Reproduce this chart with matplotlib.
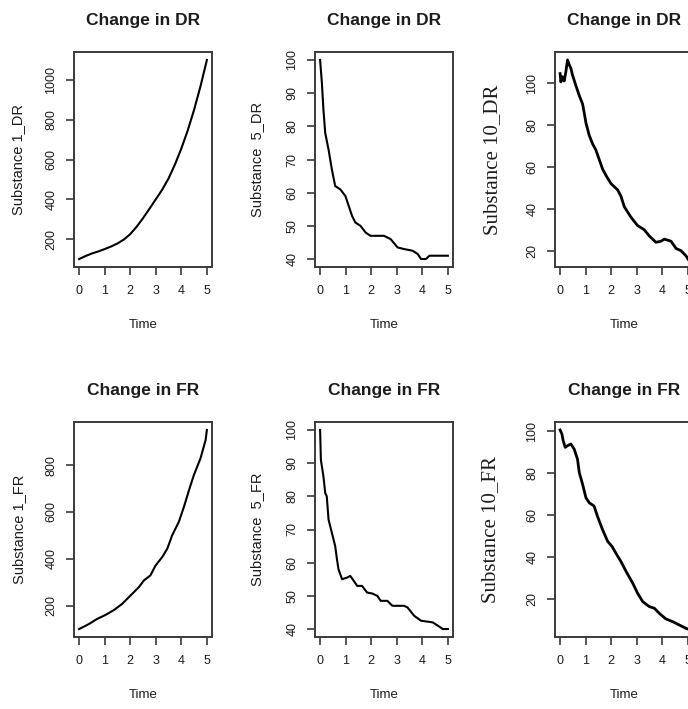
import matplotlib
matplotlib.use("Agg")
import matplotlib.pyplot as plt

# ---------------- data ----------------
time_s1_dr = [0, 0.25, 0.5, 0.75, 1, 1.25, 1.5, 1.75, 2, 2.25, 2.5, 2.75,
              3, 3.25, 3.5, 3.75, 4, 4.25, 4.5, 4.75, 5]
s1_dr = [100, 115, 128, 138, 150, 163, 178, 198, 225, 262, 305, 352,
         400, 448, 505, 575, 655, 746, 850, 968, 1100]

time_s5_dr = [0, 0.07, 0.13, 0.2, 0.33, 0.46, 0.59, 0.79, 0.99, 1.12, 1.25,
              1.38, 1.58, 1.78, 1.97, 2.5, 2.76, 3.03, 3.29, 3.62, 3.82,
              3.95, 4.14, 4.28, 5.0]
s5_dr = [100, 93, 85, 78, 73, 67, 62, 61, 59, 56, 53, 51, 50, 48, 47, 47,
         46, 43.5, 43, 42.5, 41.5, 40, 40, 41, 41]

time_s10_dr = [0, 0.03, 0.09, 0.16, 0.22, 0.29, 0.35, 0.42, 0.48, 0.61, 0.75,
               0.88, 0.94, 1.01, 1.14, 1.27, 1.40, 1.53, 1.66, 1.79, 1.99,
               2.25, 2.38, 2.51, 2.77, 3.03, 3.29, 3.49, 3.75, 3.95, 4.08,
               4.34, 4.54, 4.73, 4.93, 5.0]
s10_dr = [104.5, 100.5, 103, 101, 105, 111, 109, 107, 104, 99, 94, 90, 86,
          81, 75, 71, 68, 63.5, 59, 56, 52, 49, 46, 41, 36, 32, 30, 27, 24,
          24.5, 25.5, 24.5, 21, 20, 17.5, 16]

time_s1_fr = [0, 0.38, 0.70, 1.03, 1.36, 1.68, 2.01, 2.34, 2.53, 2.79, 2.99,
              3.25, 3.45, 3.64, 3.90, 4.10, 4.30, 4.49, 4.75, 4.95, 5.0]
s1_fr = [100, 121, 143, 160, 181, 207, 243, 279, 307, 329, 371, 407, 443,
         500, 557, 621, 693, 757, 829, 907, 950]

time_s5_fr = [0, 0.03, 0.13, 0.2, 0.26, 0.33, 0.46, 0.59, 0.66, 0.72, 0.86,
              1.05, 1.18, 1.32, 1.45, 1.64, 1.84, 2.04, 2.24, 2.37, 2.63,
              2.83, 3.29, 3.42, 3.68, 3.95, 4.41, 4.61, 4.8, 5.0]
s5_fr = [100, 91, 86, 81, 80, 73, 69, 65, 61, 58, 55, 55.5, 56, 54.5, 53,
         53, 51, 50.7, 50, 48.5, 48.5, 47, 47, 46.5, 44, 42.5, 42, 41, 40, 40]

time_s10_fr = [0, 0.07, 0.12, 0.2, 0.29, 0.42, 0.55, 0.68, 0.75, 0.88, 1.01,
               1.14, 1.33, 1.46, 1.66, 1.86, 2.03, 2.18, 2.38, 2.58, 2.84,
               3.03, 3.23, 3.49, 3.69, 3.88, 4.14, 4.41, 4.67, 4.93, 5.0]
s10_fr = [100.7, 98.8, 95.6, 92.4, 93.2, 94, 91.6, 86.8, 80.4, 74.8, 68.4,
          66, 64.4, 59.6, 53.2, 47.6, 45.2, 42, 38, 33.3, 27.7, 22.9, 18.9,
          16.5, 15.7, 13.3, 10.6, 9.3, 7.7, 6.1, 5.8]

titles = ["Change in DR", "Change in DR", "Change in DR",
          "Change in FR", "Change in FR", "Change in FR"]
ylabels = ["Substance 1_DR", "Substance  5_DR", "Substance 10_DR",
           "Substance 1_FR", "Substance  5_FR", "Substance 10_FR"]
yticks_list = [[200, 400, 600, 800, 1000], [40, 50, 60, 70, 80, 90, 100],
               [20, 40, 60, 80, 100], [200, 400, 600, 800],
               [40, 50, 60, 70, 80, 90, 100], [20, 40, 60, 80, 100]]
xticks = [0, 1, 2, 3, 4, 5]
xlabel = "Time"

series = [(time_s1_dr, s1_dr), (time_s5_dr, s5_dr), (time_s10_dr, s10_dr),
          (time_s1_fr, s1_fr), (time_s5_fr, s5_fr), (time_s10_fr, s10_fr)]

# ---------------- layout (pixels) ----------------
W, H = 688, 709
lefts = [74, 315, 555]
tops = [52, 422]
box_w, box_h = 138, 215
ylabel_off = [-56, -58, -62, -55, -58, -64]

TXT = "#1c1c1c"
BOX = "#3a3a3a"
sans = ["Liberation Sans", "DejaVu Sans"]
serif = ["Liberation Serif", "DejaVu Serif"]

fig = plt.figure(figsize=(W / 100, H / 100), dpi=100)
fig.patch.set_facecolor("white")

for i, ((t, v), title, ylab, yt) in enumerate(zip(series, titles, ylabels, yticks_list)):
    r, c = divmod(i, 3)
    L, T = lefts[c], tops[r]
    ax = fig.add_axes([L / W, 1 - (T + box_h) / H, box_w / W, box_h / H])
    lw = 2.0 if c == 2 else 1.5
    ax.plot(t, v, color="black", lw=lw, solid_joinstyle="round")
    ax.margins(x=0.04, y=0.04)
    ax.set_xticks(xticks)
    ax.set_yticks(yt)
    for s in ax.spines.values():
        s.set_color(BOX)
        s.set_linewidth(1.4)
    ax.tick_params(axis="both", direction="out", length=6, width=1.2,
                   color=BOX, labelcolor=TXT, labelsize=9)
    ax.tick_params(axis="x", pad=7)
    ax.tick_params(axis="y", pad=6, labelrotation=90)
    for lab in ax.get_yticklabels() + ax.get_xticklabels():
        lab.set_fontfamily(sans)
    for lab in ax.get_yticklabels():
        lab.set_va("center")
    ax.set_title(title, fontsize=12.5, fontweight="bold", color=TXT,
                 family=sans, y=1 + 32 / box_h, va="center", pad=0)
    ax.set_xlabel(xlabel, fontsize=9.5, color=TXT, family=sans, va="center")
    ax.xaxis.set_label_coords(0.5, -58 / box_h)
    if c == 2:
        ax.set_ylabel(ylab, fontsize=15, color=TXT, family=serif, va="center")
    else:
        ax.set_ylabel(ylab, fontsize=10.5, color=TXT, family=sans, va="center")
    ax.yaxis.set_label_coords(ylabel_off[i] / box_w, 0.5)

fig.savefig("out.png", dpi=100, facecolor="white")
